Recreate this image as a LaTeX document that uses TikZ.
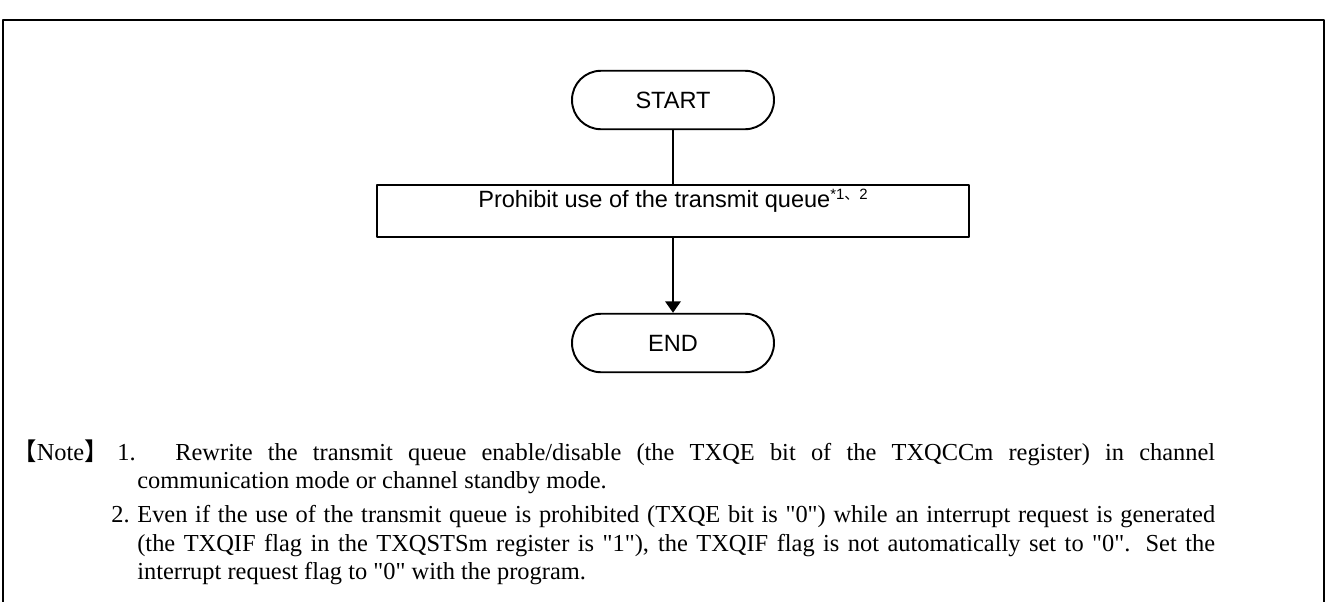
\documentclass[tikz,border=0pt]{standalone}
\usepackage{fontspec}
\setmainfont{Liberation Serif}
\newfontfamily\flowfont{Liberation Sans}
\newfontfamily\cjk{Noto Sans CJK JP}
\usetikzlibrary{arrows.meta}

\newcommand{\notefont}{\fontsize{13.9}{16}\selectfont}
\newcommand{\boxfont}{\flowfont\fontsize{13.4}{16}\selectfont}
\newcommand{\refmark}[1]{\raisebox{0.33em}{\fontsize{8.5}{9}\selectfont #1}}
\newcommand{\qt}[1]{\textquotedbl#1\textquotedbl}

\begin{document}
\begin{tikzpicture}[x=0.02cm, y=-0.02cm, line join=round, >={Triangle[length=0.23cm,width=0.31cm]},
	term/.style={draw, line width=1.1pt, rounded corners=0.58cm, minimum width=4.04cm, minimum height=1.17cm, inner sep=0pt, font=\boxfont},
	proc/.style={draw, line width=1.1pt, minimum width=11.86cm, inner sep=0pt, text height=0.44cm, text depth=0.6cm, font=\boxfont},
	flow/.style={line width=1.1pt},
	note/.style={anchor=base west, inner sep=0pt, font=\notefont}]
	\useasboundingbox (0,0) rectangle (1326,602);
	% frame, open at the bottom
	\draw[line width=1.4pt] (3,602) -- (3,20) -- (1324,20) -- (1324,602);
	% flow
	\node[term] (start) at (673,100) {START};
	\node[proc] (prohibit) at (673,211) {Prohibit use of the transmit queue\refmark{*1{\cjk 、}2}};
	\node[term] (end) at (673,343) {END};
	\draw[flow] (start) -- (prohibit);
	\draw[flow,->] (prohibit) -- (end);
	% notes
	\node[note] (notelabel) at (12,460) {{\cjk 【}Note{\cjk 】}};
	\node[note] (onenum) at (117,460) {1.};
	\node[note] (oneline1) at (175,460) {\makebox[20.8cm][s]{Rewrite the transmit queue enable/disable (the TXQE bit of the TXQCCm register) in channel}};
	\node[note] (oneline2) at (137,488) {communication mode or channel standby mode.};
	\node[note] (twonum) at (111,522) {2.};
	\node[note] (twoline1) at (137,522) {\makebox[21.56cm][s]{Even if the use of the transmit queue is prohibited (TXQE bit is \qt{0}) while an interrupt request is generated}};
	\node[note] (twoline2) at (137,551) {\makebox[21.56cm][s]{(the TXQIF flag in the TXQSTSm register is \qt{1}), the TXQIF flag is not automatically set to \qt{0}. Set the}};
	\node[note] (twoline3) at (137,579) {interrupt request flag to \qt{0} with the program.};
\end{tikzpicture}
\end{document}
